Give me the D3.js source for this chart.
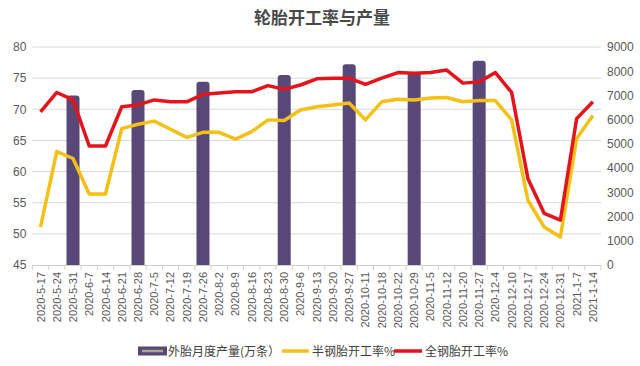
<!DOCTYPE html>
<html><head><meta charset="utf-8">
<script src="https://cdn.jsdelivr.net/npm/d3@7"></script>
<style>body{margin:0;background:#fff}svg{display:block}</style>
</head><body>
<svg id="c" width="640" height="366"></svg>
<script>
const categories = ["2020-5-17","2020-5-24","2020-5-31","2020-6-7","2020-6-14","2020-6-21","2020-6-28","2020-7-5","2020-7-12","2020-7-19","2020-7-26","2020-8-2","2020-8-9","2020-8-16","2020-8-23","2020-8-30","2020-9-6","2020-9-13","2020-9-20","2020-9-27","2020-10-11","2020-10-18","2020-10-22","2020-10-29","2020-11-5","2020-11-12","2020-11-20","2020-11-27","2020-12-4","2020-12-10","2020-12-17","2020-12-24","2020-12-31","2021-1-7","2021-1-14"];
const production = [null,null,7000,null,null,null,7220,null,null,null,7570,null,null,null,null,7840,null,null,null,8290,null,null,null,7960,null,null,null,8430,null,null,null,null,null,null,null];
const semiSteel = [51.1,63.2,62.1,56.4,56.4,66.9,67.6,68.1,66.8,65.5,66.3,66.3,65.2,66.4,68.3,68.2,69.9,70.4,70.7,71.0,68.3,71.2,71.6,71.5,71.8,71.9,71.2,71.4,71.4,68.3,55.4,51.1,49.5,65.3,69.0];
const allSteel = [69.6,72.7,71.5,64.1,64.1,70.4,70.7,71.5,71.2,71.2,72.4,72.6,72.8,72.8,73.8,73.2,73.9,74.9,75.0,75.0,74.0,75.0,75.9,75.8,75.9,76.3,74.2,74.4,75.9,72.7,58.9,53.3,52.2,68.5,71.2];
const leftTicks = [45,50,55,60,65,70,75,80];
const rightTicks = [0,1000,2000,3000,4000,5000,6000,7000,8000,9000];
const title = "轮胎开工率与产量";
const legendLabels = ["外胎月度产量(万条）","半钢胎开工率%","全钢胎开工率%"];

(function(){
const svg = d3.select("#c");
const pL = 32.4, pR = 601, pT = 47, pB = 265;
const x = d3.scaleBand().domain(categories).range([pL, pR]);
const yL = d3.scaleLinear().domain([45, 80]).range([pB, pT]);
const yR = d3.scaleLinear().domain([0, 9000]).range([pB, pT]);
const font = "'Liberation Sans', 'Noto Sans', sans-serif";
const cjk = "'Noto Sans CJK SC', sans-serif";
const colPurple = "#584878", colYellow = "#f5c015", colRed = "#e5141c";

svg.append("text").attr("x", 322).attr("y", 24).attr("text-anchor", "middle")
  .attr("font-family", cjk).attr("font-weight", "bold").attr("font-size", 17)
  .attr("fill", "#4a4a4a").text(title);

svg.append("g").selectAll("line").data(leftTicks.slice(1)).join("line")
  .attr("x1", pL).attr("x2", pR).attr("y1", d => yL(d)).attr("y2", d => yL(d))
  .attr("stroke", "#d9d9d9").attr("stroke-width", 1);

const gL = svg.append("g").attr("transform", `translate(${pL - 4},0)`)
  .call(d3.axisLeft(yL).tickValues(leftTicks).tickSize(0).tickPadding(2));
gL.select(".domain").remove();
gL.selectAll("text").attr("font-family", font).attr("font-size", 12).attr("fill", "#595959");

const gR = svg.append("g").attr("transform", `translate(${pR + 4},0)`)
  .call(d3.axisRight(yR).tickValues(rightTicks).tickFormat(d3.format("d")).tickSize(0).tickPadding(2));
gR.select(".domain").remove();
gR.selectAll("text").attr("font-family", font).attr("font-size", 12).attr("fill", "#595959");

const bw = 13;
svg.append("g").selectAll("path").data(categories.map((c, i) => ({c, v: production[i]})).filter(d => d.v != null))
  .join("path")
  .attr("d", d => {
    const cx = x(d.c) + x.bandwidth() / 2, x0 = cx - bw / 2, y0 = yR(d.v), r = 3;
    return `M${x0},${pB}V${y0 + r}Q${x0},${y0} ${x0 + r},${y0}H${x0 + bw - r}Q${x0 + bw},${y0} ${x0 + bw},${y0 + r}V${pB}Z`;
  })
  .attr("fill", colPurple);

svg.append("line").attr("x1", pL).attr("x2", pR).attr("y1", pB + 0.5).attr("y2", pB + 0.5)
  .attr("stroke", "#d0d0d0");
svg.append("g").selectAll("line").data(d3.range(categories.length + 1)).join("line")
  .attr("x1", i => pL + i * x.step()).attr("x2", i => pL + i * x.step())
  .attr("y1", pB).attr("y2", pB + 5).attr("stroke", "#d0d0d0");

svg.append("g").selectAll("text").data(categories).join("text")
  .attr("transform", d => `translate(${x(d) + x.bandwidth() / 2 + 4},${pB + 7}) rotate(-90)`)
  .attr("text-anchor", "end").attr("font-family", font).attr("font-size", 11)
  .attr("fill", "#595959").text(d => d);

const line = d3.line().x((d, i) => x(categories[i]) + x.bandwidth() / 2).y(d => yL(d));
svg.append("path").datum(semiSteel).attr("d", line).attr("fill", "none")
  .attr("stroke", colYellow).attr("stroke-width", 3.5).attr("stroke-linejoin", "round");
svg.append("path").datum(allSteel).attr("d", line).attr("fill", "none")
  .attr("stroke", colRed).attr("stroke-width", 3.5).attr("stroke-linejoin", "round");

const ly = 351;
const lg = svg.append("g");
lg.append("rect").attr("x", 138).attr("y", ly - 4.5).attr("width", 29).attr("height", 9).attr("fill", colPurple);
lg.append("line").attr("x1", 142).attr("x2", 163).attr("y1", ly).attr("y2", ly).attr("stroke", "#a9a98a").attr("stroke-width", 2.5);
lg.append("text").attr("x", 168).attr("y", ly + 4.5).attr("font-family", cjk).attr("font-size", 12).attr("fill", "#404040").text(legendLabels[0]);
lg.append("line").attr("x1", 282).attr("x2", 309).attr("y1", ly).attr("y2", ly).attr("stroke", colYellow).attr("stroke-width", 3.5);
lg.append("text").attr("x", 312).attr("y", ly + 4.5).attr("font-family", cjk).attr("font-size", 12).attr("fill", "#404040").text(legendLabels[1]);
lg.append("line").attr("x1", 394).attr("x2", 422).attr("y1", ly).attr("y2", ly).attr("stroke", colRed).attr("stroke-width", 3.5);
lg.append("text").attr("x", 425).attr("y", ly + 4.5).attr("font-family", cjk).attr("font-size", 12).attr("fill", "#404040").text(legendLabels[2]);
})();
</script>
</body></html>
